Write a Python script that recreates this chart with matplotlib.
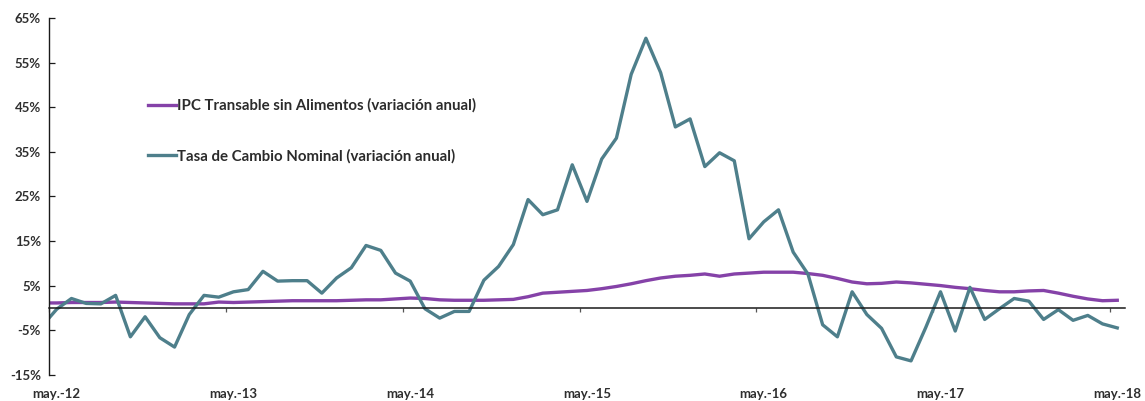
# IPC transable sin alimentos vs tasa de cambio nominal (variacion anual)

import matplotlib
matplotlib.use("Agg")
import matplotlib.pyplot as plt
import numpy as np

# monthly data, abr.-12 .. may.-18 (first point sits left of the axis and gets clipped)
months = list(range(-1, 73))
tcn = [-4.1, -0.3, 2.1, 1.0, 0.9, 2.8, -6.5, -2.0, -6.7, -8.8, -1.5, 2.8, 2.4,
       3.6, 4.1, 8.2, 6.0, 6.1, 6.1, 3.3, 6.7, 9.0, 14.0, 12.9, 7.8,
       6.0, -0.2, -2.3, -0.8, -0.8, 6.2, 9.3, 14.2, 24.3, 20.9, 22.0, 32.1,
       23.9, 33.4, 38.1, 52.4, 60.5, 52.8, 40.6, 42.4, 31.7, 34.8, 33.0, 15.5,
       19.3, 22.0, 12.5, 7.6, -3.8, -6.5, 3.6, -1.5, -4.6, -11.0, -11.9, -4.4,
       3.6, -5.2, 4.6, -2.6, -0.2, 2.1, 1.5, -2.6, -0.4, -2.8, -1.7, -3.6, -4.5]
ipc = [1.1, 1.1, 1.2, 1.2, 1.2, 1.3, 1.2, 1.1, 1.0, 0.9, 0.9, 0.9, 1.3,
       1.2, 1.3, 1.4, 1.5, 1.6, 1.6, 1.6, 1.6, 1.7, 1.8, 1.8, 2.0,
       2.2, 2.1, 1.8, 1.7, 1.7, 1.7, 1.8, 1.9, 2.5, 3.3, 3.5, 3.7,
       3.9, 4.3, 4.8, 5.4, 6.1, 6.7, 7.1, 7.3, 7.6, 7.1, 7.6, 7.8,
       8.0, 8.0, 8.0, 7.7, 7.3, 6.6, 5.8, 5.4, 5.5, 5.8, 5.6, 5.3,
       5.0, 4.6, 4.3, 3.9, 3.6, 3.6, 3.8, 3.9, 3.3, 2.6, 2.0, 1.6, 1.7]
year_ticks = [0, 12, 24, 36, 48, 60, 72]
year_labels = ["may.-12", "may.-13", "may.-14", "may.-15", "may.-16", "may.-17", "may.-18"]
y_ticks = list(range(-15, 66, 10))

plt.rcParams['font.family'] = ['Lato', 'DejaVu Sans']

fig = plt.figure(figsize=(11.45, 4.01), dpi=100)
ax = fig.add_axes([0.0431, 0.0656, 0.9391, 0.889])

x = np.array(months) + 0.5
ax.plot(x, ipc, color="#8542a8", lw=2.4, solid_joinstyle="round",
        label="IPC Transable sin Alimentos (variación anual)")
ax.plot(x, tcn, color="#4e7f8b", lw=2.4, solid_joinstyle="round",
        label="Tasa de Cambio Nominal (variación anual)")

ax.set_xlim(0, 73)
ax.set_ylim(-15, 65)

ax.spines['top'].set_visible(False)
ax.spines['right'].set_visible(False)
ax.spines['left'].set_color("#1a1a1a")
ax.spines['left'].set_linewidth(1.0)
ax.spines['bottom'].set_position(('data', 0))
ax.spines['bottom'].set_color("#1a1a1a")
ax.spines['bottom'].set_linewidth(1.1)

ax.set_yticks(y_ticks)
ax.set_yticklabels([f"{v}%" for v in y_ticks], fontweight="bold", color="#2e2e2e", fontsize=9.5)
ax.tick_params(axis='y', direction='in', length=4.5, width=0.9, color="#1a1a1a", pad=6)

# tick marks on the zero line, labels under the plot centred on the month
ax.set_xticks(year_ticks)
ax.set_xticklabels([])
ax.tick_params(axis='x', which='major', direction='out', length=3, width=0.9, color="#555555")
ax.set_xticks([t + 0.5 for t in year_ticks], minor=True)
ax.set_xticklabels(year_labels, minor=True, fontweight="bold", color="#2e2e2e", fontsize=9.5)
ax.tick_params(axis='x', which='minor', length=0, pad=58)

leg = ax.legend(loc="upper left", bbox_to_anchor=(0.079, 0.813), frameon=False,
                handlelength=1.85, handletextpad=0.12, labelspacing=2.4,
                prop={'weight': 'bold', 'size': 10.8})
for t in leg.get_texts():
    t.set_color("#2b2b2b")

fig.savefig("out.png", dpi=100)
